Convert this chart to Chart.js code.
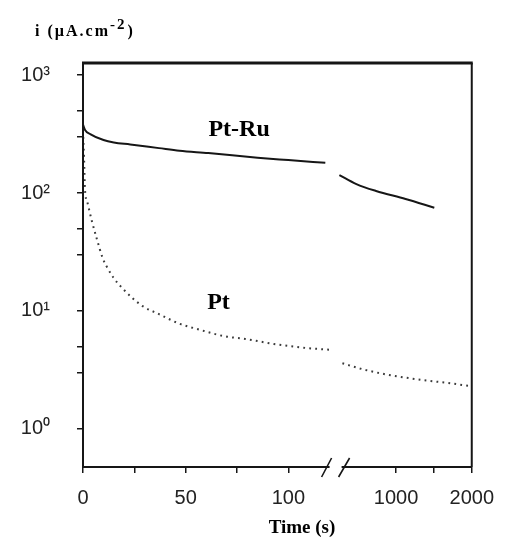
<!DOCTYPE html>
<html>
<head>
<meta charset="utf-8">
<script src="https://cdn.jsdelivr.net/npm/chart.js@4.4.1/dist/chart.umd.min.js"></script>
<style>
  body { margin: 0; background: #fff; }
  #wrap { width: 507px; height: 537px; }
</style>
</head>
<body>
<div id="wrap"><canvas id="myChart" width="507" height="537"></canvas></div>
<script>
// CHRONOAMPEROMETRY DATA (time in s, current in uA/cm2)

// short times, before the axis break
const ptRuShortTime = [0, 1, 3.5, 10, 15, 23, 37, 47, 61, 85, 100, 118];
const ptRuShortCurrent = [380, 342, 316, 281, 268, 258, 240, 228, 218, 199, 190, 180];
const ptShortTime = [0, 0.5, 1, 2, 4.3, 6.7, 9.6, 12, 15, 19, 24, 29, 37, 47, 56, 69, 79, 93, 109, 120];
const ptShortCurrent = [335, 200, 105, 85, 58, 41, 28, 23, 19, 15.7, 12.9, 11, 9.4, 7.8, 7.0, 6.1, 5.8, 5.25, 4.85, 4.7];

// long times, after the axis break
const ptRuLongTime = [250, 475, 735, 1125, 1505];
const ptRuLongCurrent = [142, 119, 104, 89, 75];
const ptLongTime = [290, 565, 905, 1350, 1690, 2000];
const ptLongCurrent = [3.6, 3.2, 2.87, 2.6, 2.45, 2.3];

// axes
const shortTicks = [0, 25, 50, 75, 100];
const shortLabels = [0, 50, 100];
const longTicks = [1000, 1500, 2000];
const longLabels = [1000, 2000];
const yTicks = [1, 3, 5, 10, 30, 50, 100, 300, 500, 1000];
const decades = [1, 10, 100, 1000];
const decadeLabels = ["10\u2070", "10\u00B9", "10\u00B2", "10\u00B3"];

// curve labels, placed in data units
const curveNames = ["Pt-Ru", "Pt"];
const curveNameTime = [76, 66];
const curveNameCurrent = [342, 11.7];

const toPoints = (xs, ys) => xs.map((x, k) => ({ x: x, y: ys[k] }));

const ink = "#161616";

const frame = {
  id: "frame",
  afterDraw(chart) {
    const { ctx, chartArea: a } = chart;
    const brk = chart.scales.xLong.left;
    ctx.save();
    ctx.strokeStyle = ink;
    ctx.lineCap = "butt";
    ctx.lineWidth = 3;
    ctx.beginPath();
    ctx.moveTo(a.left - 1, a.top);
    ctx.lineTo(a.right + 1, a.top);
    ctx.stroke();
    ctx.lineWidth = 2;
    ctx.beginPath();
    ctx.moveTo(a.left, a.top);
    ctx.lineTo(a.left, a.bottom);
    ctx.moveTo(a.right, a.top);
    ctx.lineTo(a.right, a.bottom);
    ctx.moveTo(a.left, a.bottom);
    ctx.lineTo(brk - 6, a.bottom);
    ctx.moveTo(brk + 6, a.bottom);
    ctx.lineTo(a.right, a.bottom);
    ctx.stroke();
    // break marks
    ctx.lineWidth = 1.6;
    ctx.beginPath();
    ctx.moveTo(brk - 14, a.bottom + 10);
    ctx.lineTo(brk - 4, a.bottom - 9);
    ctx.moveTo(brk + 3, a.bottom + 10);
    ctx.lineTo(brk + 14, a.bottom - 9);
    ctx.stroke();

    // curve names
    const xs = chart.scales.xShort;
    const ys = chart.scales.y;
    ctx.fillStyle = "#000";
    ctx.font = "bold 24px 'Liberation Serif', serif";
    ctx.textAlign = "center";
    ctx.textBaseline = "middle";
    curveNames.forEach((name, k) => {
      ctx.fillText(name, xs.getPixelForValue(curveNameTime[k]), ys.getPixelForValue(curveNameCurrent[k]));
    });

    // axis titles
    ctx.textAlign = "left";
    ctx.textBaseline = "alphabetic";
    if ("letterSpacing" in ctx) ctx.letterSpacing = "2px";
    ctx.font = "bold 16px 'Liberation Serif', serif";
    let x = 35;
    ctx.fillText("i (\u00B5A.cm", x, 36);
    x += ctx.measureText("i (\u00B5A.cm").width;
    ctx.font = "bold 15px 'Liberation Serif', serif";
    ctx.fillText("-2", x, 29);
    x += ctx.measureText("-2").width + 1;
    ctx.font = "bold 16px 'Liberation Serif', serif";
    ctx.fillText(")", x, 36);
    if ("letterSpacing" in ctx) ctx.letterSpacing = "0px";
    ctx.textAlign = "center";
    ctx.font = "bold 19px 'Liberation Serif', serif";
    ctx.fillText("Time (s)", 302, 533);
    ctx.restore();
  },
};

const tickGrid = {
  display: true,
  drawOnChartArea: false,
  drawTicks: true,
  tickLength: 6,
  color: ink,
  lineWidth: 1.5,
};
const tickFont = { family: "'Liberation Sans', Arial, sans-serif", size: 20 };

const ctx = document.getElementById("myChart");

new Chart(ctx, {
  type: "line",
  data: {
    datasets: [
      {
        label: "Pt-Ru",
        data: toPoints(ptRuShortTime, ptRuShortCurrent),
        xAxisID: "xShort",
        borderColor: ink,
        borderWidth: 2,
        pointRadius: 0,
        cubicInterpolationMode: "monotone",
      },
      {
        label: "Pt-Ru (long)",
        data: toPoints(ptRuLongTime, ptRuLongCurrent),
        xAxisID: "xLong",
        borderColor: ink,
        borderWidth: 2,
        pointRadius: 0,
        cubicInterpolationMode: "monotone",
      },
      {
        label: "Pt",
        data: toPoints(ptShortTime, ptShortCurrent),
        xAxisID: "xShort",
        borderColor: "#3a3a3a",
        borderWidth: 2,
        borderDash: [1.8, 4.2],
        pointRadius: 0,
        cubicInterpolationMode: "monotone",
      },
      {
        label: "Pt (long)",
        data: toPoints(ptLongTime, ptLongCurrent),
        xAxisID: "xLong",
        borderColor: "#3a3a3a",
        borderWidth: 2,
        borderDash: [1.8, 4.2],
        pointRadius: 0,
        cubicInterpolationMode: "monotone",
      },
    ],
  },
  options: {
    responsive: false,
    animation: false,
    layout: { padding: { top: 63, right: 30, bottom: 0, left: 0 } },
    plugins: {
      legend: { display: false },
      tooltip: { enabled: false },
    },
    scales: {
      xShort: {
        type: "linear",
        position: "bottom",
        stack: "time",
        stackWeight: 256,
        min: 0,
        max: 123,
        afterBuildTicks: (scale) => {
          scale.ticks = shortTicks.map((v) => ({ value: v }));
        },
        afterFit: (scale) => {
          scale.height = 70;
        },
        ticks: {
          autoSkip: false,
          maxRotation: 0,
          padding: 13,
          color: "#222",
          font: tickFont,
          callback: (v) => (shortLabels.includes(v) ? String(v) : ""),
        },
        grid: tickGrid,
        border: { display: false },
      },
      xLong: {
        type: "linear",
        position: "bottom",
        stack: "time",
        stackWeight: 138,
        min: 200,
        max: 2000,
        afterBuildTicks: (scale) => {
          scale.ticks = longTicks.map((v) => ({ value: v }));
        },
        afterFit: (scale) => {
          scale.height = 70;
        },
        ticks: {
          autoSkip: false,
          maxRotation: 0,
          padding: 13,
          color: "#222",
          font: tickFont,
          callback: (v) => (longLabels.includes(v) ? String(v) : ""),
        },
        grid: tickGrid,
        border: { display: false },
      },
      y: {
        type: "logarithmic",
        position: "left",
        min: 0.476,
        max: 1264,
        afterBuildTicks: (scale) => {
          scale.ticks = yTicks.map((v) => ({ value: v }));
        },
        afterFit: (scale) => {
          scale.width = 83;
        },
        ticks: {
          autoSkip: false,
          padding: 27,
          color: "#222",
          font: tickFont,
          callback: (v) => {
            const k = decades.indexOf(v);
            return k >= 0 ? decadeLabels[k] : "";
          },
        },
        grid: tickGrid,
        border: { display: false },
      },
    },
  },
  plugins: [frame],
});
</script>
</body>
</html>
